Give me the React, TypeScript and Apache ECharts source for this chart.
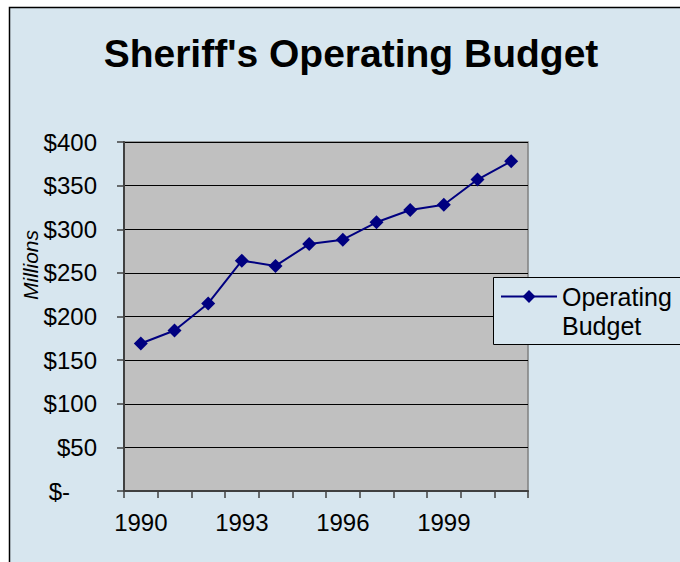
import React, { useEffect, useRef } from "react";
import * as echarts from "echarts";

const years = ["1990", "1991", "1992", "1993", "1994", "1995", "1996", "1997", "1998", "1999", "2000", "2001"];
const budget = [169, 184, 215, 264, 258, 283, 288, 308, 322, 328, 357, 378];
const yTicks = { min: 0, max: 400, interval: 50 };

const BG = "#D7E6EF";
const FONT = "'Liberation Sans', Arial, sans-serif";

export default function App() {
  const ref = useRef<HTMLDivElement>(null);
  useEffect(() => {
    const chart = echarts.init(ref.current!, null, { renderer: "svg" });
    chart.setOption({
      animation: false,
      backgroundColor: "#FFFFFF",
      title: {
        text: "Sheriff's Operating Budget",
        left: 346,
        textAlign: "center",
        top: 29,
        textStyle: { fontFamily: FONT, fontSize: 39, fontWeight: "bold", color: "#000" },
      },
      graphic: [
        {
          type: "rect",
          z: -10,
          shape: { x: 9.5, y: 7.5, width: 720, height: 620 },
          style: { fill: BG, stroke: "#000", lineWidth: 1.5 },
        },
        {
          type: "text",
          x: 30,
          y: 265,
          rotation: Math.PI / 2,
          style: {
            text: "Millions",
            fontFamily: FONT,
            fontSize: 21,
            fontStyle: "italic",
            fill: "#000",
            align: "center",
            verticalAlign: "middle",
          },
        },
        {
          type: "rect",
          z: 3,
          shape: { x: 493.5, y: 277.5, width: 250, height: 67 },
          style: { fill: BG, stroke: "#000", lineWidth: 1 },
        },
      ],
      legend: {
        left: 500,
        top: 253,
        padding: 0,
        itemWidth: 56,
        itemHeight: 16,
        itemGap: 0,
        z: 5,
        formatter: () => " \nOperating\nBudget",
        textStyle: {
          fontFamily: FONT,
          fontSize: 25,
          lineHeight: 29,
          color: "#000",
        },
      },
      grid: {
        left: 124,
        top: 142,
        width: 404,
        height: 349,
        show: true,
        backgroundColor: "#C0C0C0",
        borderColor: "#808080",
        borderWidth: 1.5,
      },
      xAxis: {
        type: "category",
        data: years,
        boundaryGap: true,
        axisLine: { lineStyle: { color: "#404040", width: 2 } },
        axisTick: { show: true, interval: 0, length: 7, lineStyle: { color: "#404040", width: 1.5 } },
        axisLabel: { interval: 2, margin: 19, fontFamily: FONT, fontSize: 24, color: "#000" },
        splitLine: { show: false },
      },
      yAxis: {
        type: "value",
        min: yTicks.min,
        max: yTicks.max,
        interval: yTicks.interval,
        axisLine: { show: true, lineStyle: { color: "#404040", width: 2 } },
        axisTick: { show: true, length: 7, lineStyle: { color: "#404040", width: 1.5 } },
        axisLabel: {
          margin: 27,
          fontFamily: FONT,
          fontSize: 24,
          color: "#000",
          formatter: (v: number) => (v === 0 ? "{z|$-}" : "$" + v),
          rich: { z: { fontFamily: FONT, fontSize: 24, color: "#000", padding: [0, 27, 0, 0] } },
        },
        splitLine: { show: true, lineStyle: { color: "#000", width: 1 } },
      },
      series: [
        {
          name: "Operating Budget",
          type: "line",
          data: budget,
          color: "#000080",
          lineStyle: { color: "#000080", width: 2 },
          itemStyle: { color: "#000080" },
          symbol: "diamond",
          symbolSize: 14,
          z: 3,
        },
      ],
    });
    return () => chart.dispose();
  }, []);
  return <div ref={ref} style={{ position: "absolute", left: 0, top: 0, width: 680, height: 562 }} />;
}
